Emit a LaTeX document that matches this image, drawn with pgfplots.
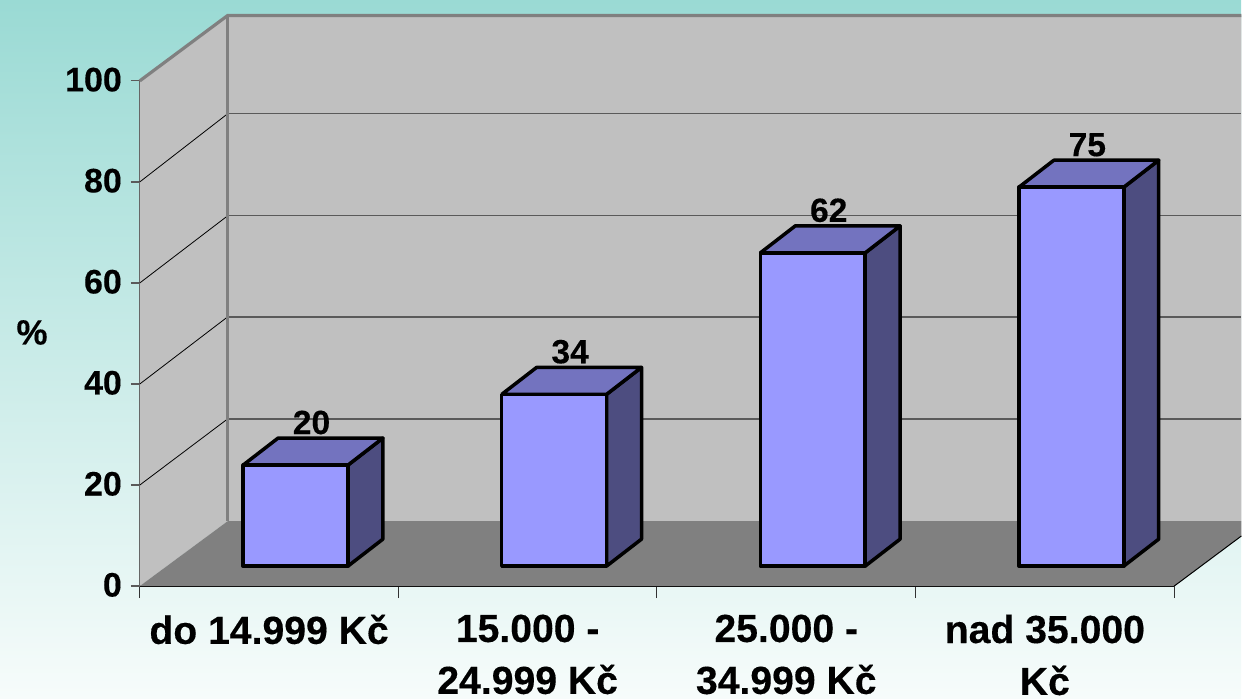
\documentclass[border=0pt]{standalone}
\usepackage{pgfplots}
\pgfplotsset{compat=1.18}
\usepackage{fontspec}
\setmainfont{Liberation Sans}[BoldFeatures={FakeBold=0.3}]
\definecolor{wallc}{HTML}{C0C0C0}
\definecolor{floorc}{HTML}{808080}
\definecolor{edgec}{HTML}{808080}
\definecolor{gridc}{HTML}{5A5A5A}
\definecolor{frontc}{HTML}{9999FF}
\definecolor{topc}{HTML}{7373BF}
\definecolor{sidec}{HTML}{4D4D80}
\definecolor{bgtop}{HTML}{9ADAD4}
\definecolor{bgbot}{HTML}{F7FCFB}
\pgfplotsset{
  base/.style={
    scale only axis, width=518pt, height=253pt,
    xmin=-0.5, xmax=3.5, ymin=0, ymax=100, clip=false,
    anchor=south west, no markers,
    /pgf/number format/assume math mode=true,
  },
  barface/.style={draw=black, line width=1.75pt, line join=round, forget plot},
}
\begin{document}
\begin{tikzpicture}
\shade[top color=bgtop, bottom color=bgbot] (0,0) rectangle (621.5pt,350pt);
% frame
\begin{axis}[base, at={(70pt,56.5pt)},
  axis lines=left, axis line style={-},
  y axis line style={draw=gridc, line width=0.9pt},
  x axis line style={draw=black, line width=0.5pt},
  tick align=outside,
  ytick={0,20,40,60,80,100},
  ytick style={draw=gridc, line width=0.6pt},
  major tick length=4.5pt,
  yticklabel style={font=\bfseries\fontsize{17}{20}\selectfont, inner sep=0pt, xshift=-4.3pt, yshift=0.6pt},
  xtick={0,1,2,3},
  xticklabels={{do 14.999 Kč},{15.000 -\\24.999 Kč},{25.000 -\\34.999 Kč},{nad 35.000\\Kč}},
  major x tick style={draw=none},
  minor xtick={-0.5,0.5,1.5,2.5,3.5},
  minor tick length=6pt,
  minor x tick style={draw=black!80, line width=0.5pt},
  xticklabel style={font=\bfseries\fontsize{19.6}{26}\selectfont, align=center, anchor=north, inner sep=0pt, yshift=-9.6pt},
  ylabel={\bfseries\fontsize{17.5}{20}\selectfont \%},
  every axis y label/.style={at={(axis description cs:-0.1042,0.502)}, anchor=center},
]
% back wall and left wall
\addplot[fill=wallc, draw=none] coordinates {(-0.16,12.85) (3.76,12.85) (3.76,112.95) (-0.16,112.95) (-0.16,12.85)};
\addplot[fill=wallc, draw=none] coordinates {(-0.5,0) (-0.16,12.85) (-0.16,112.95) (-0.5,100) (-0.5,0)};
% floor
\addplot[fill=floorc, draw=none] coordinates {(-0.5,0) (3.5,0) (3.76,9.92) (3.76,12.85) (-0.16,12.85) (-0.5,0)};
% right edge of the floor
\addplot[black, line width=0.5pt] coordinates {(3.5,0) (3.76,9.92)};
% gridlines, side wall
\addplot[black, line width=0.4pt] coordinates {(-0.5,20) (-0.16,33.1)};
\addplot[black, line width=0.4pt] coordinates {(-0.5,40) (-0.16,53.3)};
\addplot[black, line width=0.4pt] coordinates {(-0.5,60) (-0.16,73.3)};
\addplot[black, line width=0.4pt] coordinates {(-0.5,80) (-0.16,93.5)};
% gridlines, back wall
\addplot[gridc, line width=0.7pt] coordinates {(-0.16,33.1) (3.76,33.1)};
\addplot[gridc, line width=0.7pt] coordinates {(-0.16,53.3) (3.76,53.3)};
\addplot[gridc, line width=0.7pt] coordinates {(-0.16,73.3) (3.76,73.3)};
\addplot[gridc, line width=0.7pt] coordinates {(-0.16,93.5) (3.76,93.5)};
% wall edges
\addplot[edgec, line width=1.6pt] coordinates {(-0.16,12.85) (-0.16,112.95)};
\addplot[edgec, line width=1.6pt] coordinates {(-0.5,100) (-0.16,112.95) (3.76,112.95)};
\end{axis}
% bars
\begin{axis}[base, at={(83.25pt,66.5pt)}, hide axis]
\addplot[barface, fill=sidec] coordinates {(0.2027,0) (0.3378,5.34) (0.3378,25.34) (0.2027,20) (0.2027,0)};
\addplot[barface, fill=topc] coordinates {(-0.2027,20) (0.2027,20) (0.3378,25.34) (-0.0676,25.34) (-0.2027,20)};
\addplot[barface, fill=sidec] coordinates {(1.2027,0) (1.3378,5.34) (1.3378,39.34) (1.2027,34) (1.2027,0)};
\addplot[barface, fill=topc] coordinates {(0.7973,34) (1.2027,34) (1.3378,39.34) (0.9324,39.34) (0.7973,34)};
\addplot[barface, fill=sidec] coordinates {(2.2027,0) (2.3378,5.34) (2.3378,67.34) (2.2027,62) (2.2027,0)};
\addplot[barface, fill=topc] coordinates {(1.7973,62) (2.2027,62) (2.3378,67.34) (1.9324,67.34) (1.7973,62)};
\addplot[barface, fill=sidec] coordinates {(3.2027,0) (3.3378,5.34) (3.3378,80.34) (3.2027,75) (3.2027,0)};
\addplot[barface, fill=topc] coordinates {(2.7973,75) (3.2027,75) (3.3378,80.34) (2.9324,80.34) (2.7973,75)};
\addplot[ybar, bar width=52.5pt, bar shift=0pt, fill=frontc, draw=black, line width=1.75pt, line join=round,
  nodes near coords,
  every node near coord/.style={font=\bfseries\fontsize{16.8}{20}\selectfont, anchor=south, inner sep=0pt, xshift=8pt, yshift=14.5pt, text=black},
] coordinates {(0,20) (1,34) (2,62) (3,75)};
\end{axis}
\end{tikzpicture}
\end{document}
